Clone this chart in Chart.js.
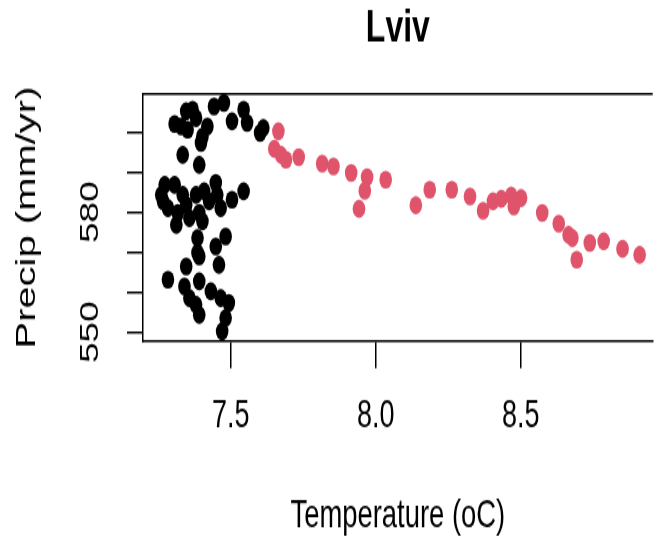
<!DOCTYPE html>
<html>
<head>
<meta charset="utf-8">
<script src="https://cdn.jsdelivr.net/npm/chart.js@4"></script>
<style>
  html, body { margin: 0; padding: 0; background: #fff; }
  body { width: 659px; height: 540px; }
  #wrap { width: 659px; height: 378px; transform: scaleY(1.4286); transform-origin: 0 0; }
</style>
</head>
<body>
<div id="wrap"><canvas id="chart" width="659" height="378" style="width:659px;height:378px"></canvas></div>
<script>
// years up to the break (black) and after (red)
const blackTemp = [7.306, 7.346, 7.368, 7.380, 7.351, 7.329, 7.419, 7.402, 7.397, 7.442,
  7.476, 7.504, 7.544, 7.556, 7.601, 7.612, 7.334, 7.391, 7.272, 7.306,
  7.266, 7.260, 7.283, 7.334, 7.346, 7.380, 7.408, 7.448, 7.425, 7.453,
  7.504, 7.544, 7.317, 7.391, 7.465, 7.312, 7.357, 7.402, 7.385, 7.482,
  7.448, 7.391, 7.346, 7.459, 7.391, 7.283, 7.340, 7.357, 7.391, 7.431,
  7.465, 7.493, 7.482, 7.470, 7.380, 7.385];
const blackPrecip = [602.0, 605.2, 605.6, 603.5, 600.6, 601.4, 601.4, 598.9, 597.3, 606.4,
  607.3, 602.7, 605.6, 602.3, 599.8, 601.0, 594.3, 591.8, 586.8, 586.8,
  582.7, 584.3, 581.0, 584.3, 581.8, 584.3, 585.2, 587.3, 582.7, 584.3,
  583.1, 585.2, 579.8, 579.8, 581.0, 576.8, 578.5, 577.7, 573.5, 573.9,
  571.4, 568.9, 566.4, 566.8, 562.7, 563.1, 561.4, 558.5, 554.3, 560.2,
  558.5, 557.3, 553.5, 550.2, 556.8, 569.8];
const redTemp = [7.664, 7.650, 7.673, 7.690, 7.734, 7.815, 7.854, 7.915, 7.970, 7.962,
  7.942, 8.034, 8.138, 8.186, 8.262, 8.325, 8.370, 8.404, 8.433, 8.467,
  8.479, 8.501, 8.476, 8.574, 8.631, 8.665, 8.678, 8.693, 8.738, 8.786,
  8.851, 8.910];
const redPrecip = [600.2, 595.8, 594.3, 593.1, 593.7, 592.1, 591.4, 589.8, 588.7, 585.3,
  580.8, 588.1, 581.7, 585.6, 585.6, 583.9, 580.3, 582.7, 583.3, 584.1,
  582.4, 583.5, 581.4, 579.8, 577.1, 574.3, 573.5, 568.1, 572.3, 572.7,
  570.8, 569.3];

const xTicks = [7.5, 8.0, 8.5];
const yTicks = [550, 560, 570, 580, 590, 600];
const yLabelsShown = [550, 580];

const FONT = '"Liberation Sans", Arial, Helvetica, sans-serif';

const toPoints = (xs, ys) => xs.map((x, i) => ({ x: x, y: ys[i] }));

const boxTop = {
  id: 'boxTop',
  afterDraw(chart) {
    const { ctx, chartArea } = chart;
    ctx.save();
    ctx.strokeStyle = '#000';
    ctx.lineWidth = 1.5;
    ctx.beginPath();
    ctx.moveTo(chartArea.left, chartArea.top);
    ctx.lineTo(chartArea.right, chartArea.top);
    ctx.stroke();
    ctx.restore();
  }
};

new Chart(document.getElementById('chart'), {
  type: 'scatter',
  data: {
    datasets: [
      { data: toPoints(blackTemp, blackPrecip), backgroundColor: '#000000', borderWidth: 0, pointRadius: 6.3, pointHoverRadius: 6.3 },
      { data: toPoints(redTemp, redPrecip), backgroundColor: '#DF536B', borderWidth: 0, pointRadius: 6.3, pointHoverRadius: 6.3 }
    ]
  },
  plugins: [boxTop],
  options: {
    responsive: false,
    animation: false,
    layout: { padding: 0 },
    plugins: {
      legend: { display: false },
      tooltip: { enabled: false },
      title: {
        display: true,
        text: 'Lviv',
        fullSize: false,
        color: '#000',
        font: { family: FONT, size: 32, weight: 'bold', lineHeight: 1.2 },
        padding: { top: 0.8, bottom: 26.6 }
      }
    },
    scales: {
      x: {
        type: 'linear',
        min: 7.197,
        max: 8.955,
        afterBuildTicks: (s) => { s.ticks = xTicks.map(v => ({ value: v })); },
        afterFit: (s) => { s.height = 139.3; },
        ticks: {
          color: '#000',
          font: { family: FONT, size: 27, lineHeight: 1.2 },
          padding: 18,
          autoSkip: false,
          maxRotation: 0,
          callback: (v) => Number(v).toFixed(1)
        },
        grid: { drawOnChartArea: false, color: '#000', lineWidth: 1.5, tickLength: 19 },
        border: { color: '#000', width: 1.5 },
        title: {
          display: true,
          text: 'Temperature (oC)',
          color: '#000',
          font: { family: FONT, size: 27.4, lineHeight: 1.2 },
          padding: { top: 0, bottom: 0.6 }
        }
      },
      y: {
        type: 'linear',
        min: 547.75,
        max: 609.5,
        afterBuildTicks: (s) => { s.ticks = yTicks.map(v => ({ value: v })); },
        afterFit: (s) => { s.width = 143; },
        ticks: {
          color: '#000',
          font: { family: FONT, size: 26, lineHeight: 1.2 },
          padding: 14,
          autoSkip: false,
          minRotation: 90,
          maxRotation: 90,
          crossAlign: 'center',
          callback: (v) => yLabelsShown.includes(v) ? String(v) : ''
        },
        grid: { drawOnChartArea: false, color: '#000', lineWidth: 1.5, tickLength: 16 },
        border: { color: '#000', width: 1.5 },
        title: {
          display: true,
          text: 'Precip (mm/yr)',
          color: '#000',
          font: { family: FONT, size: 28, lineHeight: 1.2 },
          padding: { top: 10.2, bottom: 0 }
        }
      }
    }
  }
});
</script>
</body>
</html>
